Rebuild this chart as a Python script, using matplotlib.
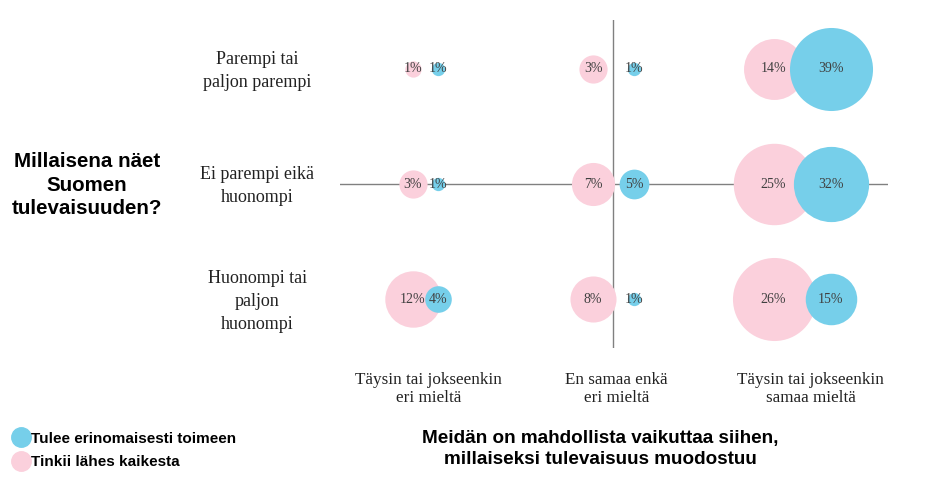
import matplotlib.pyplot as plt
import matplotlib.transforms as mtransforms
from matplotlib.lines import Line2D

# data
rows = ["Parempi tai\npaljon parempi", "Ei parempi eikä\nhuonompi", "Huonompi tai\npaljon\nhuonompi"]
cols = ["Täysin tai jokseenkin\neri mieltä", "En samaa enkä\neri mieltä", "Täysin tai jokseenkin\nsamaa mieltä"]
# rows x cols, percentages
tinkii = [[1, 3, 14],
          [3, 7, 25],
          [12, 8, 26]]
tulee = [[1, 1, 39],
         [1, 5, 32],
         [4, 1, 15]]
series_names = ["Tulee erinomaisesti toimeen", "Tinkii lähes kaikesta"]

blue = "#76cfea"
pink = "#fbd0dc"
serif = "Liberation Serif"

# layout helpers
col_x = [1, 2, 3]
row_y = [3, 2, 1]
pink_off = [-0.062, -0.105, -0.148]
blue_off = [0.07, 0.112, 0.155]
max_s = 3575  # marker area (pt^2) of each series' largest bubble

fig = plt.figure(figsize=(9.4, 4.8), dpi=100)
ax = fig.add_axes([340 / 940, 1 - 348 / 480, 548 / 940, 328 / 480])
ax.set_xlim(2 - 273 / 188.5, 2 + 275 / 188.5)
ax.set_ylim(2 - 1.42, 2 + 1.42)
ax.axis("off")
ax.axhline(2, color="#808080", lw=1, zorder=0)
ax.axvline(2, color="#808080", lw=1, zorder=0)

pmax = max(max(r) for r in tinkii)
bmax = max(max(r) for r in tulee)
for i, y in enumerate(row_y):
    for j, x in enumerate(col_x):
        px, bx = x + pink_off[j], x + blue_off[j]
        ax.scatter([px], [y], s=max_s * tinkii[i][j] / pmax, color=pink, zorder=2, linewidths=0)
        ax.text(px, y, f"{tinkii[i][j]}%", ha="center", va="center",
                fontsize=10, family=serif, color="#404040", zorder=3)
        ax.scatter([bx], [y], s=max_s * tulee[i][j] / bmax, color=blue, zorder=4, linewidths=0)
        ax.text(bx, y, f"{tulee[i][j]}%", ha="center", va="center",
                fontsize=10, family=serif, color="#404040", zorder=5)

# row labels
tr = mtransforms.blended_transform_factory(fig.transFigure, ax.transData)
for lab, y in zip(rows, row_y):
    ax.text(257 / 940, y - 0.02, lab, transform=tr, ha="center", va="center",
            fontsize=13, family=serif, color="#222222", linespacing=1.45)

# column labels
tr2 = mtransforms.blended_transform_factory(ax.transData, fig.transFigure)
col_lab_x = [1.02, 2.02, 3.05]
for lab, x in zip(cols, col_lab_x):
    ax.text(x, 1 - 389 / 480, lab, transform=tr2, ha="center", va="center",
            fontsize=12.3, family=serif, color="#222222", linespacing=1.1)

fig.text(87 / 940, 1 - 185 / 480, "Millaisena näet\nSuomen\ntulevaisuuden?",
         ha="center", va="center", fontsize=14.8, fontweight="bold",
         family="Liberation Sans", linespacing=1.27)
fig.text(600 / 940, 1 - 449 / 480,
         "Meidän on mahdollista vaikuttaa siihen,\nmillaiseksi tulevaisuus muodostuu",
         ha="center", va="center", fontsize=13.6, fontweight="bold",
         family="Liberation Sans", linespacing=1.27)

handles = [Line2D([], [], ls="none", marker="o", markersize=14, color=blue, mec=blue),
           Line2D([], [], ls="none", marker="o", markersize=14, color=pink, mec=pink)]
fig.legend(handles, series_names, loc="upper left", bbox_to_anchor=(-0.004, 1 - 418 / 480),
           frameon=False, handletextpad=0.0, labelspacing=0.62, handlelength=1.4,
           prop={"family": "Liberation Sans", "weight": "bold", "size": 11})

fig.savefig("out.png", dpi=100)
